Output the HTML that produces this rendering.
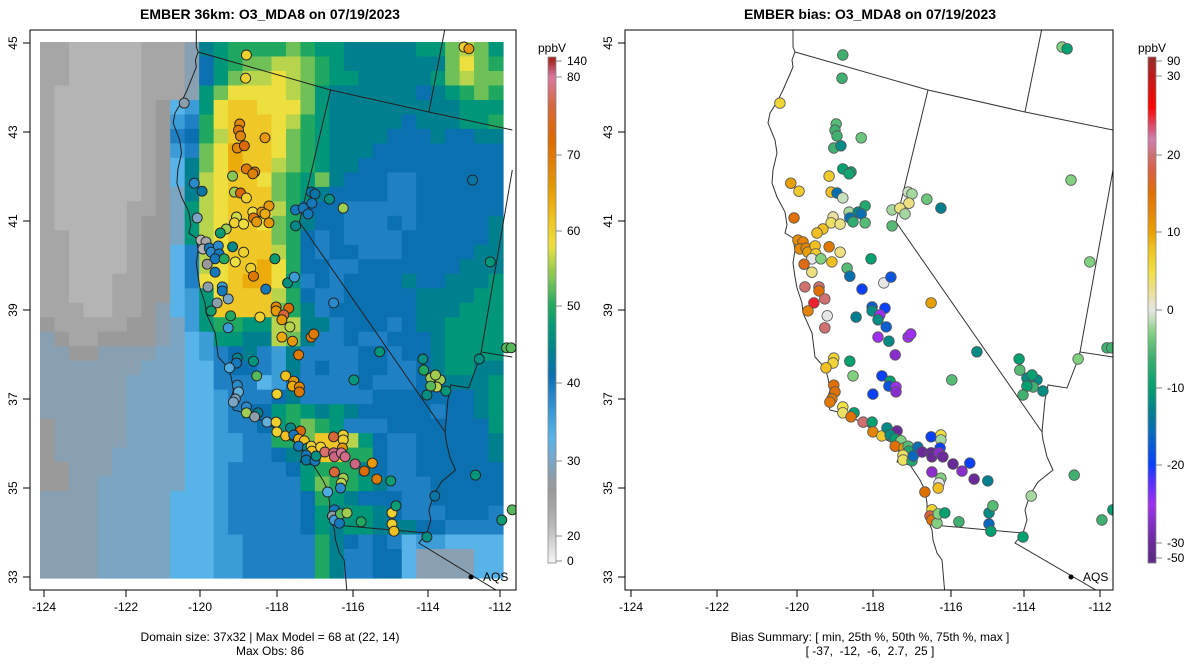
<!DOCTYPE html>
<html><head><meta charset="utf-8"><style>
html,body{margin:0;padding:0;background:#fff;}
svg{display:block;font-family:"Liberation Sans",Arial,sans-serif;}
</style></head><body>
<svg id="chart" width="1200" height="672" viewBox="0 0 1200 672">
<defs>
<clipPath id="clipL"><rect x="30" y="30" width="486" height="560"/></clipPath>
<clipPath id="clipR"><rect x="625" y="30" width="488" height="560"/></clipPath>
</defs>
<text x="270" y="19" text-anchor="middle" font-size="14" font-weight="bold">EMBER 36km: O3_MDA8 on 07/19/2023</text>
<text x="870" y="19" text-anchor="middle" font-size="14" font-weight="bold">EMBER bias: O3_MDA8 on 07/19/2023</text>
<g id="left-map" clip-path="url(#clipL)"></g>
<g id="right-map" clip-path="url(#clipR)"></g>
<g id="axes"></g>
<g id="cbars"></g>
<text x="270" y="641" text-anchor="middle" font-size="12">Domain size: 37x32 | Max Model = 68 at (22, 14)</text>
<text x="270" y="655" text-anchor="middle" font-size="12">Max Obs: 86</text>
<text x="870" y="641" text-anchor="middle" font-size="12">Bias Summary: [ min, 25th %, 50th %, 75th %, max ]</text>
<text x="870" y="655" text-anchor="middle" font-size="12" xml:space="preserve">[ -37,  -12,  -6,  2.7,  25 ]</text>
</svg>
<script>
// ---- data ----
const gridRows = [
"bbaaaaabbbdjkllllmlkkjjjjjkkmnmk",
"bbaaaaabbbdiklmmnnmlkjjjjjjjmoml",
"bbaaaaabbbdikmnnonmlkkjjjjjkmnmm",
"baaaaaabbbdkmoooonmkjjjjjjijklml",
"baaaaaabcfgkoppooomkjjjjjjjjjkkk",
"baaaaaabcghloppponlkjjjjjijjjkkl",
"baaaaaabchilnpppomlkjjjjiiijiijj",
"baaaaaabcghmoqppomlkjjjiiiiiiiii",
"baaaaaabcfjmoqppnmlkjjiiiiiiiiii",
"baaaaaabcfjnoppomlkmjiiihhiiiiii",
"baaaaaabcejnopppmlkjiiiihhiiiiii",
"baaaaabbceknopppnliiihhhhhiiiiii",
"baaaaabcceknoppomljiihhhihiiiiij",
"bbaaaabcceknopppmlihihhhhiiiiiij",
"bbaaaabccfhnopppnlihiihhhiiiiijj",
"bbaaaabccfhnoppqoliihhiiiiiiijjj",
"bbaaabbccfhoopqqokhihiiiijiijjjk",
"bbaaabbccfgkopppnlihhiiiiijjjjkk",
"bbbaabbcdfgkppppmljhiiiiiijjjkkk",
"cbbbbbccdegkllkknnjjhiiihijjkkkk",
"dcbbccccdefgkkjjnmjhhihhiiijkkkk",
"ddccddddeefghijhgjhhhhiihiijkkkk",
"dddddddeeeffhiihgjhihhiihhijkkjj",
"ddddddeeeeffhhhfgihhhhihhhiijjjk",
"ddddddeeeeffghhhijhhhhhiiiiiiijk",
"ddddddeeeeffghiiklkjkjiiiiihiijk",
"cdddddeeeeffghhiklmlkhhhiiiiiiik",
"cdddddeeeeffgghhllmppnkihhiiiiij",
"cddddeeeeeffgghhijkppllihhiiiiij",
"ccdddeeeeeffghhhhikllljihhiiiiii",
"ccddeeeeeeffghhhhhkmllkjhhhiiiii",
"ddddeeeeefffghhhhhilkjiiihhiiiii",
"ddddeeeeefffghhhhhikjkkjihhhiiih",
"ddddeeeeefffghhhhhikjkkjjjiihhhh",
"ddddeeeeefffgghhhhhljihihfggffff",
"ddddeeeeefffgghhhhhljhhiifddddff",
"ddddeeeeefffgghhhhhljhhiifddddff"
];
const gridLevelChars = "abcdefghijklmnopq";
const gridLevelValues = [22,24,26,28.5,30,33,36,39,41,44,47,50,53,56,58,61,64];

const siteLon = [-118.58,-118.60,-120.19,-112.97,-112.84,-118.75,-118.78,-118.73,-118.11,-118.81,-118.63,-118.93,-118.58,-118.37,-118.42,-119.91,-119.70,-118.88,-118.73,-118.58,-116.91,-116.81,-116.89,-116.43,-116.07,-117.32,-117.12,-116.99,-117.32,-119.83,-118.01,-118.42,-118.19,-118.11,-118.40,-118.32,-118.01,-118.83,-118.88,-118.65,-119.09,-119.24,-119.73,-119.60,-119.68,-119.52,-119.47,-119.29,-118.93,-119.27,-119.37,-119.14,-118.65,-118.86,-119.57,-119.37,-118.47,-117.86,-118.40,-119.55,-119.19,-119.19,-119.04,-119.32,-118.09,-117.53,-117.35,-116.32,-119.47,-118.98,-119.04,-117.83,-117.83,-117.50,-117.63,-117.68,-117.47,-118.24,-117.68,-117.40,-116.91,-116.84,-117.24,-115.15,-118.81,-118.83,-119.01,-118.40,-118.32,-117.58,-117.37,-117.40,-117.22,-117.22,-117.81,-115.79,-118.81,-118.78,-118.86,-118.91,-118.58,-118.58,-118.29,-118.37,-118.06,-117.83,-117.81,-117.58,-117.45,-117.19,-117.37,-117.24,-117.09,-117.24,-117.01,-116.91,-116.89,-117.04,-117.04,-116.81,-116.78,-116.66,-116.55,-116.32,-116.07,-116.07,-116.09,-116.32,-116.30,-116.12,-116.02,-115.76,-115.53,-115.33,-116.30,-116.07,-116.12,-116.14,-115.22,-114.87,-116.48,-116.30,-116.35,-116.30,-116.17,-116.14,-115.97,-115.61,-114.84,-114.74,-114.84,-114.79,-113.97,-113.76,-112.66,-111.95,-111.67,-114.07,-114.05,-113.87,-113.61,-113.74,-113.71,-113.87,-113.46,-113.97,-112.56,-111.82,-112.74,-112.26,-111.70];
const siteLat = [44.73,44.21,43.65,44.91,44.87,43.18,43.04,42.91,42.87,42.64,42.69,42.01,42.17,42.10,42.06,41.85,41.67,41.65,41.63,41.52,41.65,41.61,41.40,41.49,41.29,41.25,41.29,41.16,40.89,41.07,41.34,41.20,41.20,41.16,41.07,40.98,40.96,41.09,40.96,40.93,40.82,40.73,40.57,40.53,40.37,40.39,40.30,40.44,40.42,40.26,40.15,40.15,40.30,40.08,40.03,39.85,39.94,40.15,39.76,39.52,39.52,39.43,39.25,39.16,39.47,39.61,39.74,39.16,38.98,38.87,38.60,39.07,38.98,39.04,38.89,38.78,38.62,38.84,38.39,38.30,38.39,38.46,37.99,38.06,37.92,37.81,37.70,37.85,37.52,37.52,37.40,37.29,37.27,37.16,37.11,37.43,37.31,37.16,37.00,36.93,36.82,36.69,36.69,36.60,36.48,36.48,36.26,36.17,36.35,36.28,36.19,36.10,36.06,35.94,35.90,35.94,35.83,35.74,35.63,35.61,35.72,35.92,35.81,36.15,36.19,36.08,35.90,35.79,35.70,35.79,35.70,35.54,35.38,35.56,35.36,35.22,35.11,35.00,35.20,35.16,34.91,34.51,34.37,34.28,34.21,34.42,34.44,34.24,34.44,34.60,34.19,34.03,33.90,34.82,35.29,34.28,34.51,37.90,37.65,37.47,37.43,37.54,37.27,37.29,37.18,37.09,37.90,38.15,41.92,40.08,38.15];
const siteObs = [60,60,28,60,66,68,70,68,66,68,72,54,70,69,69,38,42,55,72,60,42,42,40,46,55,40,40,40,45,30,66,58,66,64,70,66,66,57,60,58,55,48,22,24,22,40,38,38,45,40,40,50,60,58,26,40,60,48,70,28,36,40,30,28,40,46,36,38,48,50,36,68,66,72,76,66,56,60,64,66,70,70,70,47,44,40,34,47,52,62,66,64,68,70,60,47,38,32,30,30,38,55,44,28,32,60,60,62,45,72,40,64,62,40,45,60,62,40,42,40,46,60,78,76,60,60,66,95,95,85,90,95,72,66,76,55,56,38,70,48,34,40,28,36,40,52,55,50,60,48,60,62,46,42,47,48,52,46,50,55,55,55,56,52,47,46,46,52,42,47,52];
const siteBias = [-6,-6,6,-3,-10,-5,-6,-6,-4,-6,-12,7,-10,-9,-9,10,7,8,-15,-1,-1,-2,3,-4,-13,-2,3,-2,-5,15,-8,-2,-12,-15,-15,-7,-5,2,4,3,8,8,12,13,12,13,10,8,14,7,0,-3,3,8,16,3,-5,-10,-15,20,20,15,20,25,-20,0,-18,10,13,0,20,-17,-12,-20,-25,-12,-17,-13,-25,-12,-25,-25,-27,-12,6,6,8,-10,-3,-20,-10,-18,-25,-27,-20,-5,15,15,14,14,5,4,-10,15,20,-10,13,7,-12,-30,-12,-10,-3,15,10,-5,-8,4,4,-8,-16,-15,-30,-20,5,-2,-20,-33,-33,-27,-30,-33,-27,-20,-27,-3,0,8,-30,-13,15,6,18,15,-3,-3,-10,-6,-12,-5,-16,-10,-10,-2,-6,-6,-10,-10,-5,-12,-12,-10,-6,-10,-12,-6,-3,-6,-3,-3,-6];

const lonTicks = [-124,-122,-120,-118,-116,-114,-112];
const latTicks = [33,35,37,39,41,43,45];
const obsBarTicks = [0,20,30,40,50,60,70,80,140];
const biasBarTicks = [-50,-30,-20,-10,0,10,20,30,90];

// ---- scales ----
const NS='http://www.w3.org/2000/svg';
function interp(v, xs, ys){
  if(v<=xs[0]) return ys[0]+(v-xs[0])*(ys[1]-ys[0])/(xs[1]-xs[0]);
  for(let i=1;i<xs.length;i++){ if(v<=xs[i]) return ys[i-1]+(v-xs[i-1])*(ys[i]-ys[i-1])/(xs[i]-xs[i-1]); }
  const n=xs.length; return ys[n-2]+(v-xs[n-2])*(ys[n-1]-ys[n-2])/(xs[n-1]-xs[n-2]);
}
const rTickPx=[631,717,797,873,951,1024,1100], lTickPx=[44,126,200,277,353,428,500];
function xR(lon){return 631+(lon+124)*39.08;}
function yMap(lat){return 577-(lat-33)*44.5;}
function rToL(px){return interp(px,rTickPx,lTickPx);}
function xL(lon){return rToL(xR(lon));}
const obsBarY=[561,536,461,383,306,231,155,77,61];
const biasBarY=[558,543,465,388,310,232,155,76,61];

function hex2rgb(h){return [parseInt(h.slice(1,3),16),parseInt(h.slice(3,5),16),parseInt(h.slice(5,7),16)];}
function makeCmap(vals,cols){const rgb=cols.map(hex2rgb);return function(v){
  if(v<=vals[0]) return cols[0]; if(v>=vals[vals.length-1]) return cols[cols.length-1];
  for(let i=1;i<vals.length;i++) if(v<=vals[i]){const t=(v-vals[i-1])/(vals[i]-vals[i-1]);const a=rgb[i-1],b=rgb[i];
    return 'rgb('+a.map((c,k)=>Math.round(c+(b[k]-c)*t)).join(',')+')';}
};}
const obsColor=makeCmap([0,20,22,24,26,28,30,33,36,39,41,44,47,50,53,56,58,62,65,68,72,76,80,140],
 ['#f4f4f4','#c8c8c8','#b4b4b4','#a6a6a6','#9a9a9a','#8d9eab','#7aa6c4','#58b4e8','#3c9cd8','#2080c4','#0a70b0','#00808f','#00967a','#20a860','#70c058','#b8d44c','#ecdf3e','#f0c020','#e8a000','#e08800','#dc6a00','#d86838','#d878a0','#a82828']);
const biasColor=makeCmap([-50,-30,-25,-22,-20,-16,-13,-10,-6,-3,-1,0,2,5,8,10,15,18,20,22,24,26,30,90],
 ['#5a2a86','#6a2a9a','#a030f0','#5030ff','#0a40ff','#0868c0','#00808f','#00a070','#40b070','#80d080','#c8e0c0','#e6e6e6','#ebe0a0','#f0e040','#f0c020','#e8a000','#e07000','#d86040','#d07070','#d080b0','#e04060','#ff0000','#c01818','#a02828']);

function el(tag,attrs,parent){const e=document.createElementNS(NS,tag);for(const k in attrs)e.setAttribute(k,attrs[k]);parent.appendChild(e);return e;}

// ---- left heatmap ----
const L=document.getElementById('left-map'), R=document.getElementById('right-map');
const nRows=gridRows.length, nCols=32, gx0=40, gy0=42, cw=463/nCols, ch=536/nRows;
for(let r=0;r<nRows;r++){for(let c=0;c<nCols;c++){
  const chr=gridRows[r][c]||'i'; let idx=gridLevelChars.indexOf(chr); if(idx<0) idx=8;
  const cell=el('rect',{x:(gx0+c*cw).toFixed(2),y:(gy0+r*ch).toFixed(2),width:(cw+0.6).toFixed(2),height:(ch+0.6).toFixed(2),fill:obsColor(gridLevelValues[idx])},L);
  
  
}}

// ---- geography (right-panel pixel outlines) ----
const geoLines=[
 [[793,30],[793,47],[795,52],[792,60],[793,67],[783,90],[777,102],[770,113],[768,123],[775,140],[777,153],[773,170],[772,183],[777,197],[785,212],[787,225],[785,233],[793,238],[795,250],[793,263],[795,277],[797,288],[802,303],[803,313],[812,333],[815,357],[825,368],[828,378],[830,390],[827,400],[830,410],[842,413],[857,420],[870,428],[880,437],[893,443],[900,453],[897,462],[910,465],[920,480],[925,490],[927,503],[927,517],[932,530],[933,540],[937,553],[942,560],[945,595]],
 [[795,52],[928,90],[1025,112],[1113,130]],
 [[1042,28],[1025,112]],
 [[928,90],[896,222],[1042,432]],
 [[1042,432],[1043,440],[1047,457],[1053,470],[1038,482],[1033,490],[1030,495],[1025,510],[1027,520],[1023,533],[1015,543],[1113,600]],
 [[933,525],[1023,533]],
 [[1113,170],[1080,352],[1113,357]],
 [[1080,352],[1077,362],[1067,388],[1048,385],[1045,400],[1042,432]]
];
geoLines.forEach((ln,i)=>{
  const pr=el('polyline',{points:ln.map(p=>p[0]+','+p[1]).join(' '),fill:'none',stroke:'#333','stroke-width':1},R);
  
  
  const pl=el('polyline',{points:ln.map(p=>rToL(p[0]).toFixed(1)+','+p[1]).join(' '),fill:'none',stroke:'#222','stroke-width':1},L);
  
  
});

// ---- sites ----
for(let i=0;i<siteLon.length;i++){
  const cl=el('circle',{cx:xL(siteLon[i]).toFixed(1),cy:yMap(siteLat[i]).toFixed(1),r:5,fill:obsColor(siteObs[i]),stroke:'#222','stroke-width':0.9},L);
  
  
  const cr=el('circle',{cx:xR(siteLon[i]).toFixed(1),cy:yMap(siteLat[i]).toFixed(1),r:5.3,fill:biasColor(siteBias[i]),stroke:'#555','stroke-width':0.8},R);
  
  
}
// AQS legend
[[471,483,L],[1071,1083,R]].forEach(a=>{
  const d=el('circle',{cx:a[0],cy:577,r:2.5,fill:'#000'},a[2]);
  
  
  const t=el('text',{x:a[1],y:581,'font-size':12},a[2]); t.textContent='AQS';
  
  
});

// ---- axes ----
const A=document.getElementById('axes');
[[30,516,lTickPx],[625,1113,rTickPx]].forEach((p,pi)=>{
  const box=el('rect',{x:p[0],y:30,width:p[1]-p[0],height:560,fill:'none',stroke:'#000','stroke-width':1},A);
  
  
  lonTicks.forEach((v,i)=>{
    const x=p[2][i];
    const tk=el('line',{x1:x,y1:590,x2:x,y2:597,stroke:'#000'},A);
    
    
    const t=el('text',{x:x,y:611,'font-size':12,'text-anchor':'middle'},A); t.textContent=v;
    
    
  });
  latTicks.forEach(v=>{
    const y=yMap(v);
    const tk=el('line',{x1:p[0]-7,y1:y,x2:p[0],y2:y,stroke:'#000'},A);
    
    
    const tx=p[0]-13;
    const t=el('text',{x:tx,y:y,'font-size':12,'text-anchor':'middle',transform:'rotate(-90 '+tx+' '+y+')'},A); t.textContent=v;
    
    
  });
});

// ---- colorbars ----
const C=document.getElementById('cbars');
function colorbar(x0,ticks,ys,cmap,name){
  const top=57,bot=563;
  for(let y=top;y<bot;y+=2){
    const v=interp(y+1,ys.slice().reverse(),ticks.slice().reverse());
    const s=el('rect',{x:x0,y:y,width:8,height:2.3,fill:cmap(v)},C);
    
    
  }
  const fr=el('rect',{x:x0,y:top,width:8,height:bot-top,fill:'none',stroke:'#888','stroke-width':0.8},C);
  
  
  ticks.forEach((v,i)=>{
    const tk=el('line',{x1:x0+8,y1:ys[i],x2:x0+14,y2:ys[i],stroke:'#888'},C);
    
    
    const t=el('text',{x:x0+19,y:ys[i]+4,'font-size':12},C); t.textContent=v;
    
    
  });
  const u=el('text',{x:x0+4,y:52,'font-size':12,'text-anchor':'middle'},C); u.textContent='ppbV';
  
  
}
colorbar(548,obsBarTicks,obsBarY,obsColor,'obs-colorbar');
colorbar(1148,biasBarTicks,biasBarY,biasColor,'bias-colorbar');
</script>
</body></html>
